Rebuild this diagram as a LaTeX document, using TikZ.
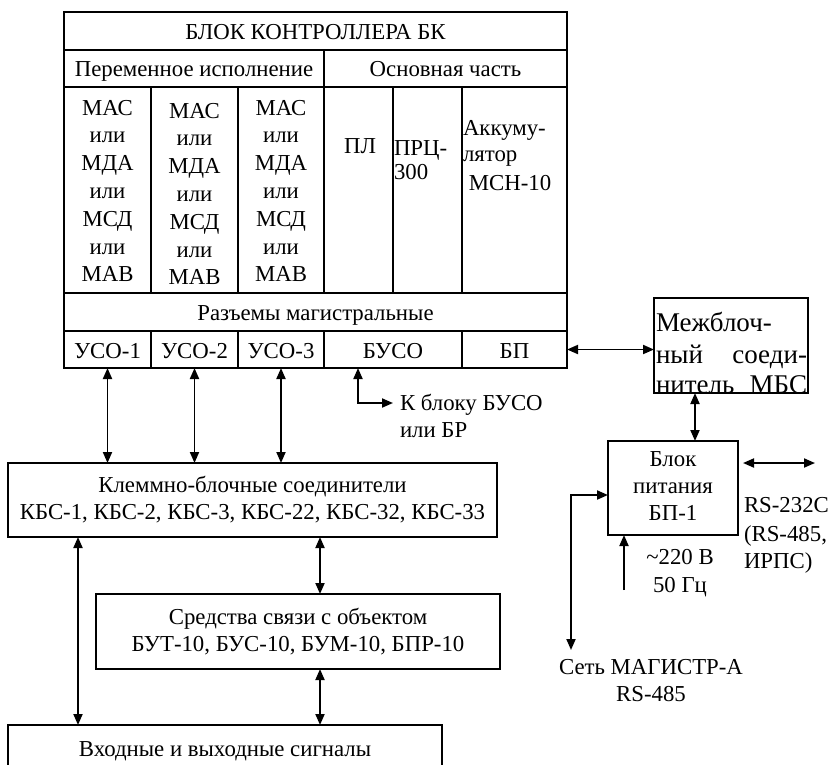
\documentclass[tikz,border=0pt]{standalone}
\usepackage{fontspec}
\setmainfont{Liberation Serif}
\usetikzlibrary{arrows.meta}
\begin{document}
\begin{tikzpicture}[x=1pt,y=-1pt,
  font=\fontsize{22.8}{27}\selectfont,
  every node/.style={inner sep=0pt,outer sep=0pt},
  cell/.style={draw,line width=1.8pt,minimum width=#1},
  box/.style={draw,line width=1.8pt},
  txt/.style={inner sep=0pt},
  big/.style={font=\fontsize{27}{31}\selectfont},
  con/.style={line width=1.9pt,{Triangle[length=11pt,width=9pt]}-{Triangle[length=11pt,width=9pt]}},
  one/.style={line width=1.9pt,-{Triangle[length=11pt,width=9pt]}}]
\useasboundingbox (0,0) rectangle (829,764);
\clip (0,0) rectangle (829,764);
% main table
\node[cell=503,minimum height=38] (title) at (315.5,31) {};
\node[txt,anchor=base] at (title.center |- 0,39) {БЛОК КОНТРОЛЛЕРА БК};
\node[cell=260,minimum height=37] (per) at (194,68.5) {};
\node[txt,anchor=base] at (per.center |- 0,76) {Переменное исполнение};
\node[cell=243,minimum height=37] (osn) at (445.5,68.5) {};
\node[txt,anchor=base] at (osn.center |- 0,76) {Основная часть};
\node[cell=87,minimum height=206] (m1) at (107.5,190) {};
\node[cell=87,minimum height=206] (m2) at (194.5,190) {};
\node[cell=86,minimum height=206] (m3) at (281,190) {};
\node[cell=69,minimum height=206] (pl) at (358.5,190) {};
\node[cell=69,minimum height=206] (prc) at (427.5,190) {};
\node[cell=105,minimum height=206] (akk) at (514.5,190) {};
\foreach \w [count=\i from 0] in {МАС,или,МДА,или,МСД,или,МАВ}{
  \node[txt,anchor=base] at (107.5,115+27.8*\i) {\w};
  \node[txt,anchor=base] at (194.5,118+27.8*\i) {\w};
  \node[txt,anchor=base] at (281,115+27.8*\i) {\w};
}
\node[txt,anchor=base] at (360,153) {ПЛ};
\node[txt,anchor=base west] at (394,155) {ПРЦ-};
\node[txt,anchor=base west] at (394,179) {300};
\node[txt,anchor=base west] at (463,135) {Аккуму-};
\node[txt,anchor=base west] at (463,161) {лятор};
\node[txt,anchor=base] at (510,190) {МСН-10};
\node[cell=503,minimum height=38] (raz) at (315.5,312) {};
\node[txt,anchor=base] at (raz.center |- 0,320) {Разъемы магистральные};
\node[cell=87,minimum height=37] (uso1) at (107.5,349.5) {};
\node[cell=87,minimum height=37] (uso2) at (194.5,349.5) {};
\node[cell=86,minimum height=37] (uso3) at (281,349.5) {};
\node[cell=138,minimum height=37] (buso) at (393,349.5) {};
\node[cell=105,minimum height=37] (bp) at (514.5,349.5) {};
\node[txt,anchor=base] at (uso1.center |- 0,358) {УСО-1};
\node[txt,anchor=base] at (uso2.center |- 0,358) {УСО-2};
\node[txt,anchor=base] at (uso3.center |- 0,358) {УСО-3};
\node[txt,anchor=base] at (buso.center |- 0,358) {БУСО};
\node[txt,anchor=base] at (bp.center |- 0,358) {БП};
% BUSO output
\coordinate (kb) at (393,403);
\draw[con] (kb) -| ([xshift=-35pt]buso.south);
\node[txt,anchor=base west] at (400,410) {К блоку БУСО};
\node[txt,anchor=base west] at (400,437) {или БР};
% MBS
\node[box,minimum width=154,minimum height=95] (mbs) at (731,345.5) {};
\node[txt,big,anchor=base west] at (656,331) {Межблоч-};
\node[txt,big,anchor=base west] at (656,363) {ный};
\node[txt,big,anchor=base east] at (807,363) {соеди-};
\node[txt,big,anchor=base west] at (656,393) {нитель};
\node[txt,big,anchor=base east] at (807,393) {МБС};
\draw[con] (bp.east) -- (mbs.west |- bp.east);
% power block
\node[box,minimum width=130,minimum height=94] (bpit) at (673,488) {};
\node[txt,anchor=base] at (673,466) {Блок};
\node[txt,anchor=base] at (673,493) {питания};
\node[txt,anchor=base] at (673,520) {БП-1};
\draw[con] ([xshift=-36pt]mbs.south) -- ([xshift=-36pt]mbs.south |- bpit.north);
\coordinate (rsa) at (743,463);
\coordinate (rsb) at (815,463);
\draw[con] (rsa) -- (rsb);
\node[txt,anchor=base west] at (744,512) {RS-232C};
\node[txt,anchor=base west] at (744,541) {(RS-485,};
\node[txt,anchor=base west] at (744,568) {ИРПС)};
\coordinate (ac) at (624,590);
\draw[one] (ac) -- (ac |- bpit.south);
\node[txt,anchor=base] at (680,564) {\textasciitilde220 В};
\node[txt,anchor=base] at (680,592) {50 Гц};
\coordinate (net) at (571,650);
\draw[con] (net) |- ([yshift=-7pt]bpit.west);
\node[txt,anchor=base] at (651,674) {Сеть МАГИСТР-А};
\node[txt,anchor=base] at (651,701) {RS-485};
% lower boxes
\node[box,minimum width=489,minimum height=74,align=center] (kbs) at (252.5,500) {Клеммно-блочные соединители\\КБС-1, КБС-2, КБС-3, КБС-22, КБС-32, КБС-33};
\node[box,minimum width=404,minimum height=75,align=center] (sred) at (298,631.5) {Средства связи с объектом\\БУТ-10, БУС-10, БУМ-10, БПР-10};
\node[box,minimum width=434,minimum height=80] (vh) at (225,765) {};
\node[txt,anchor=base] at (225,756) {Входные и выходные сигналы};
\draw[con] (uso1.south) -- (uso1.south |- kbs.north);
\draw[con] (uso2.south) -- (uso2.south |- kbs.north);
\draw[con] (uso3.south) -- (uso3.south |- kbs.north);
\coordinate (xl) at (78,0);
\coordinate (xr) at (320,0);
\draw[con] (xl |- kbs.south) -- (xl |- vh.north);
\draw[con] (xr |- kbs.south) -- (xr |- sred.north);
\draw[con] (xr |- sred.south) -- (xr |- vh.north);
\end{tikzpicture}
\end{document}
